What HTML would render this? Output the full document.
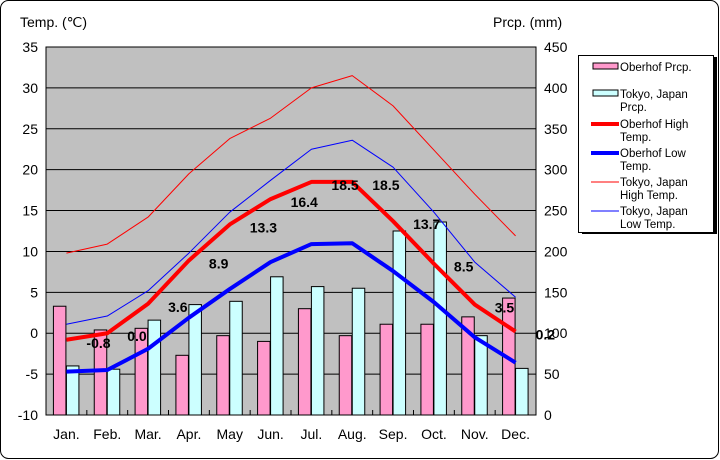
<!DOCTYPE html>
<html><head><meta charset="utf-8"><style>body{margin:0;background:#fff}svg{display:block;font-family:"Liberation Sans",sans-serif}</style></head>
<body>
<svg id="c" width="720" height="460">
<rect x="0.5" y="0.5" width="718" height="458" rx="8" fill="#fff" stroke="#000"/>
<g id="plot"></g>
</svg>
<script>
const months=["Jan.","Feb.","Mar.","Apr.","May","Jun.","Jul.","Aug.","Sep.","Oct.","Nov.","Dec."];
const oberhofPrcp=[133,104,106,73,97,90,130,97,111,111,120,143];
const tokyoPrcp=[60,56,116,135,139,169,157,155,225,236,97,57];
const oberhofHigh=[-0.8,0.0,3.6,8.9,13.3,16.4,18.5,18.5,13.7,8.5,3.5,0.2];
const oberhofLow=[-4.7,-4.5,-1.9,1.9,5.4,8.7,10.9,11.0,7.6,3.8,-0.5,-3.6];
const tokyoHigh=[9.8,10.9,14.2,19.5,23.8,26.3,30.0,31.5,27.8,22.4,17.0,11.9];
const tokyoLow=[1.1,2.1,5.2,9.8,14.8,18.7,22.5,23.6,20.3,14.8,8.7,4.4];
const tempTicks=[-10,-5,0,5,10,15,20,25,30,35];
const prcpTicks=[0,50,100,150,200,250,300,350,400,450];
const L=46,R=536,T=47,B=415,NS="http://www.w3.org/2000/svg";
const bw=(R-L)/12;
const xc=i=>L+bw*(i+0.5);
const yT=v=>B-(v+10)/45*(B-T);
const yP=v=>B-v/450*(B-T);
const g=document.getElementById('plot');
function mk(t,a,p){const e=document.createElementNS(NS,t);for(const k in a)e.setAttribute(k,a[k]);(p||g).appendChild(e);return e;}
let e=mk('rect',{x:L,y:T,width:R-L,height:B-T,fill:'#c0c0c0',stroke:'#000'});

tempTicks.forEach((v,i)=>{
 if(v>-10&&v<35){e=mk('line',{x1:L,x2:R,y1:yT(v),y2:yT(v),stroke:'#000','stroke-width':1});}
 e=mk('text',{x:L-8,y:yT(v)+5,'text-anchor':'end','font-size':14});e.textContent=v;
 
});
prcpTicks.forEach(v=>{e=mk('text',{x:R+8,y:yP(v)+5,'font-size':14});e.textContent=v;
 });
months.forEach((m,i)=>{
 e=mk('line',{x1:L+bw*(i+1),x2:L+bw*(i+1),y1:B,y2:B-5,stroke:'#000'});
 e=mk('text',{x:xc(i),y:B+24,'text-anchor':'middle','font-size':14});e.textContent=m;
 
 e=mk('rect',{x:xc(i)-13,y:yP(oberhofPrcp[i]),width:12.5,height:B-yP(oberhofPrcp[i]),fill:'#ff99cc',stroke:'#000'});
 
 e=mk('rect',{x:xc(i),y:yP(tokyoPrcp[i]),width:12.5,height:B-yP(tokyoPrcp[i]),fill:'#ccffff',stroke:'#000'});
 
});
function line(d,c,w,n){e=mk('polyline',{points:d.map((v,i)=>xc(i)+','+yT(v)).join(' '),fill:'none',stroke:c,'stroke-width':w,'stroke-linejoin':'round'});
 }
line(tokyoHigh,'#ff0000',1,'line-tokyo-high');
line(tokyoLow,'#0000ff',1,'line-tokyo-low');
line(oberhofHigh,'#ff0000',4,'line-oberhof-high');
line(oberhofLow,'#0000ff',4,'line-oberhof-low');
oberhofHigh.forEach((v,i)=>{e=mk('text',{x:xc(i)+20,y:yT(v)+8,'font-size':14,'font-weight':'bold'});e.textContent=v.toFixed(1);
 });
e=mk('text',{x:20,y:27,'font-size':14});e.textContent='Temp. (℃)';
e=mk('text',{x:493,y:27,'font-size':14});e.textContent='Prcp. (mm)';
// legend
const lg=mk('g',{});
mk('rect',{x:582,y:57,width:135,height:177,fill:'#000'},lg);
mk('rect',{x:578.5,y:55.5,width:135,height:177,fill:'#fff',stroke:'#000'},lg);
const items=[["rect","#ff99cc",["Oberhof Prcp."],67],["rect","#ccffff",["Tokyo, Japan","Prcp."],94],["line4","#ff0000",["Oberhof High","Temp."],124],["line4","#0000ff",["Oberhof Low","Temp."],153],["line1","#ff0000",["Tokyo, Japan","High Temp."],182],["line1","#0000ff",["Tokyo, Japan","Low Temp."],211]];
items.forEach(it=>{const y=it[3];
 if(it[0]=="rect")mk('rect',{x:593,y:y-4,width:25,height:6,fill:it[1],stroke:'#000'},lg);
 else mk('line',{x1:591,x2:619,y1:y,y2:y,stroke:it[1],'stroke-width':it[0]=="line4"?4:1},lg);
 it[2].forEach((t,k)=>{const tx=mk('text',{x:620,y:y+4+k*13,'font-size':11.5},lg);tx.textContent=t;
  });
});
</script>
</body></html>
